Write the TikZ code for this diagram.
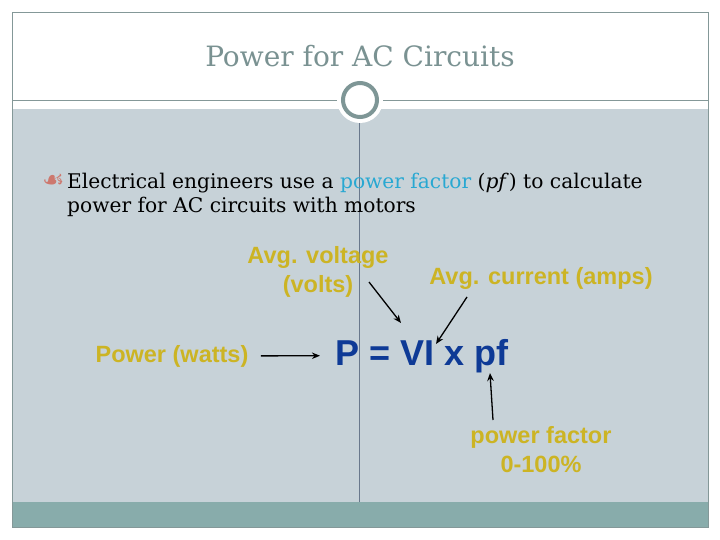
\documentclass[tikz,border=0pt]{standalone}
\usepackage{fontspec}
\setmainfont{DejaVu Serif}
\newfontfamily\labelfont{Liberation Sans}
\newfontfamily\bulletfont{DejaVu Sans}
\usetikzlibrary{arrows.meta, positioning, calc}
\definecolor{flowgray}{RGB}{199,210,216}
\definecolor{flowteal}{RGB}{136,172,171}
\definecolor{flowline}{RGB}{132,152,152}
\definecolor{flowtitle}{RGB}{122,146,146}
\definecolor{flowring}{RGB}{126,150,150}
\definecolor{flowaxis}{RGB}{105,120,140}
\definecolor{flowgold}{RGB}{204,180,36}
\definecolor{flowblue}{RGB}{14,58,150}
\definecolor{flowcyan}{RGB}{40,168,210}
\definecolor{flowbullet}{RGB}{205,120,110}
\tikzset{
  quantity/.style={text=flowgold, font=\labelfont\bfseries\fontsize{23.5}{29}\selectfont, align=center},
  formula/.style={text=flowblue, font=\labelfont\bfseries\fontsize{36}{40}\selectfont},
  bodytext/.style={anchor=base west, font=\fontsize{20.2}{24}\selectfont, inner sep=0pt},
  pointer/.style={-{Stealth[length=8pt,width=6.5pt]}, line width=1.3pt, color=black}
}

\begin{document}
\begin{tikzpicture}[x=1pt, y=-1pt]
  \useasboundingbox (0,0) rectangle (720,540);
  % slide background
  \fill[white] (0,0) rectangle (720,540);
  \fill[flowgray] (12,109) rectangle (708,502);
  \fill[flowteal] (12,502) rectangle (708,527);
  \draw[flowline] (12,12) rectangle (708,527);
  \draw[flowline] (12,100) -- (708,100);
  \draw[flowaxis] (359,100) -- (359,502);
  \fill[white] (360,100) circle[radius=23pt];
  \draw[flowring, line width=4pt, fill=white] (360,100) circle[radius=17pt];
  \node (title) [anchor=base, text=flowtitle, font=\fontsize{28}{32}\selectfont] at (360,67) {Power for AC Circuits};
  % bullet text
  \node (dot) [bodytext, text=flowbullet, font=\bulletfont\fontsize{25}{24}\selectfont] at (42,189) {☙};
  \node (line1) [bodytext] at (67,189) {Electrical engineers use a \textcolor{flowcyan}{power factor} (\textit{pf}) to calculate};
  \node (line2) [bodytext] at ($(line1.base west)+(0,24)$) {power for AC circuits with motors};
  % the formula and its parts
  \node (volt) [quantity] at (318,272) {Avg. voltage\\(volts)};
  \node (amps) [quantity, anchor=base] at (541,284) {Avg. current (amps)};
  \node (watts) [quantity, anchor=base] at (172,362) {Power (watts)};
  \node (eq) [formula, anchor=base] at (422,365) {P = VI x pf};
  \node (pf) [quantity] at (541,450) {power factor\\0-100\%};
  \coordinate (volttail) at (369,282);
  \coordinate (volthead) at (401,323);
  \coordinate (ampstail) at (467,297);
  \coordinate (ampshead) at (436,344);
  \coordinate (pftail) at (493,420);
  \coordinate (pfhead) at (490,373);
  \draw [pointer] (volttail) -- (volthead);
  \draw [pointer] (ampstail) -- (ampshead);
  \draw [pointer, shorten <=9pt, shorten >=12pt] (watts.east) -- (eq.west);
  \draw [pointer] (pftail) -- (pfhead);
\end{tikzpicture}
\end{document}
